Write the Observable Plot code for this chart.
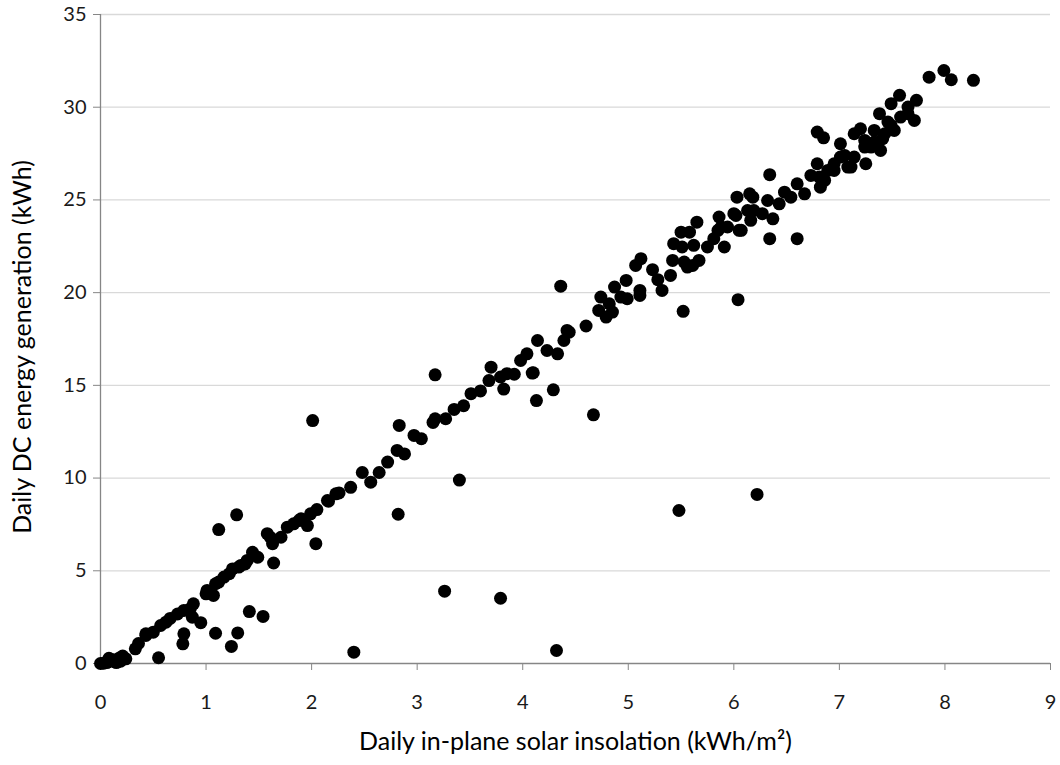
<!DOCTYPE html>
<html>
<head>
<meta charset="utf-8">
<script src="https://cdn.jsdelivr.net/npm/d3@7"></script>
<script src="https://cdn.jsdelivr.net/npm/@observablehq/plot@0.6"></script>
<style>
  html, body { margin: 0; padding: 0; background: #fff; }
  #chart svg { display: block; }
</style>
</head>
<body>
<div id="chart"></div>
<script>
// Daily in-plane solar insolation (kWh/m²)
const insolation = [
  0.00,0.03,0.06,0.09,0.12,0.15,0.18,0.21,0.24,0.08,0.19,
  0.33,0.36,0.43,0.43,0.50,0.57,0.62,0.66,0.73,0.79,0.85,0.88,0.87,0.95,
  1.00,1.01,1.07,1.09,1.12,1.17,1.22,1.25,1.31,1.33,1.37,1.39,1.44,1.49,
  1.58,1.61,1.63,1.71,1.77,1.83,1.88,1.90,1.96,1.99,2.05,2.15,2.16,2.23,2.26,
  2.37,2.48,2.56,2.64,2.72,2.81,2.88,2.97,3.04,3.15,3.17,3.27,3.35,3.44,
  3.51,3.60,3.68,3.70,3.79,3.82,3.85,3.92,3.98,4.04,4.09,4.14,4.23,4.33,
  4.39,4.44,4.60,4.72,4.74,4.79,4.85,4.87,4.98,4.99,5.07,5.11,5.12,5.23,
  5.28,5.32,5.40,5.42,5.43,5.50,5.51,5.53,5.58,5.61,5.62,5.65,5.67,5.75,
  5.81,5.86,5.88,5.91,6.00,6.03,6.05,6.13,6.15,6.18,6.19,6.27,6.32,6.37,
  6.43,6.48,6.54,6.60,6.67,6.73,6.79,6.81,6.82,6.86,6.89,6.95,7.01,7.01,
  7.08,7.14,7.14,7.20,7.24,7.24,7.25,7.33,7.33,7.38,7.39,7.41,7.43,7.46,
  7.49,7.49,7.52,7.57,7.58,7.65,7.65,7.71,7.73,
  4.42,4.82,4.93,5.11,5.56,5.85,5.94,6.16,6.02,6.07,6.95,7.05,7.11,7.30,
  // off-trend days
  0.55,0.78,0.79,1.09,1.12,1.24,1.29,1.30,1.41,1.54,1.64,2.01,2.04,2.40,
  2.82,2.83,3.17,3.26,3.40,3.79,4.10,4.13,4.29,4.32,4.36,4.67,5.48,5.52,
  6.04,6.22,6.34,6.34,6.60,6.79,6.85,7.85,7.99,8.06,8.27
];
// Daily DC energy generation (kWh)
const generation = [
  0.00,0.02,0.05,0.12,0.20,0.05,0.30,0.40,0.25,0.28,0.12,
  0.79,1.08,1.51,1.60,1.69,2.05,2.23,2.43,2.67,2.86,2.95,3.22,2.50,2.20,
  3.76,3.94,3.67,4.30,4.39,4.66,4.84,5.10,5.20,5.29,5.37,5.56,6.00,5.73,
  7.00,6.80,6.46,6.81,7.35,7.53,7.71,7.80,7.44,8.07,8.30,8.79,8.75,9.15,9.20,
  9.50,10.30,9.78,10.30,10.86,11.49,11.30,12.30,12.12,13.00,13.20,13.20,13.70,13.90,
  14.55,14.70,15.26,15.98,15.45,14.80,15.63,15.60,16.34,16.70,15.66,17.42,16.88,16.70,
  17.42,17.87,18.20,19.04,19.76,18.68,18.95,20.30,20.66,19.67,21.47,20.12,21.83,21.24,
  20.70,20.12,20.93,21.74,22.64,23.26,22.46,21.65,23.26,21.47,22.55,23.80,21.74,22.46,
  22.91,24.08,23.54,22.46,24.26,25.15,23.36,24.43,25.33,25.15,24.43,24.26,24.97,23.98,
  24.79,25.42,25.15,25.87,25.33,26.32,26.95,26.23,25.69,26.05,26.59,26.95,28.03,27.31,
  26.77,27.31,28.57,28.84,27.85,28.21,26.95,28.75,28.12,29.65,27.67,28.30,28.57,29.20,
  30.19,29.02,28.75,30.64,29.47,30.01,29.65,29.29,30.37,
  17.96,19.40,19.76,19.85,21.38,23.36,23.54,23.90,24.16,23.36,26.59,27.40,26.77,27.85,
  // off-trend days
  0.31,1.06,1.60,1.63,7.22,0.92,8.02,1.65,2.80,2.54,5.42,13.10,6.46,0.61,
  8.05,12.84,15.57,3.90,9.89,3.52,15.68,14.18,14.76,0.70,20.35,13.41,8.25,18.99,
  19.62,9.12,26.36,22.91,22.91,28.66,28.35,31.62,31.98,31.48,31.45
];
const yTicks = [0, 5, 10, 15, 20, 25, 30, 35];
const xTicks = [0, 1, 2, 3, 4, 5, 6, 7, 8, 9];
const gridLines = [5, 10, 15, 20, 25, 30, 35];
const xTitle = "Daily in-plane solar insolation (kWh/m²)";
const yTitle = "Daily DC energy generation (kWh)";

const data = insolation.map((x, i) => ({x, y: generation[i]}));

const chart = Plot.plot({
  width: 1060,
  height: 765,
  marginTop: 14,
  marginBottom: 102,
  marginLeft: 100,
  marginRight: 10,
  style: {fontFamily: "Lato, 'Open Sans', sans-serif", background: "#fff", color: "#000"},
  x: {domain: [0, 9]},
  y: {domain: [0, 35]},
  marks: [
    Plot.ruleY(gridLines, {stroke: "#d9d9d9", strokeWidth: 1.3}),
    Plot.axisY(yTicks, {tickSize: 7, tickPadding: 7, fontSize: 20, stroke: "#868686", color: "#1a1a1a", label: null}),
    Plot.axisX(xTicks, {tickSize: 7, tickPadding: 24, fontSize: 20, stroke: "#868686", color: "#1a1a1a", label: null}),
    Plot.ruleX([0], {stroke: "#868686", strokeWidth: 1.3}),
    Plot.ruleY([0], {stroke: "#868686", strokeWidth: 1.3}),
    Plot.dot(data, {x: "x", y: "y", r: 6.5, fill: "#000", stroke: "none"}),
    Plot.text([xTitle], {frameAnchor: "bottom", dy: 86, fontSize: 25, fill: "#000", textAnchor: "middle", text: d => d}),
    Plot.text([yTitle], {frameAnchor: "left", dx: -78, dy: 8, rotate: -90, fontSize: 25, fill: "#000", textAnchor: "middle", text: d => d})
  ]
});
document.getElementById("chart").appendChild(chart);
</script>
</body>
</html>
